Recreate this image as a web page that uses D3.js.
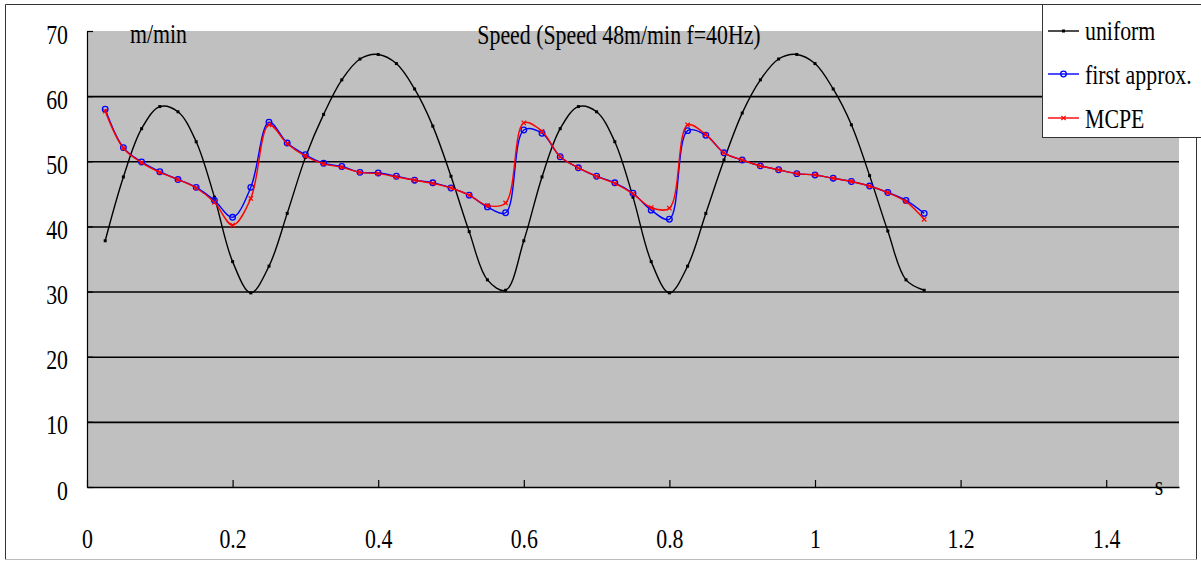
<!DOCTYPE html>
<html>
<head>
<meta charset="utf-8">
<script src="https://cdn.jsdelivr.net/npm/d3@7"></script>
<style>
  body { margin: 0; background: #fff; }
  svg { display: block; }
  text { font-family: "Liberation Serif", "Times New Roman", serif; fill: #000; }
</style>
</head>
<body>
<svg id="chart" width="1201" height="562"></svg>
<script>
// Sample times (s)
const times = [0.025, 0.05, 0.075, 0.1, 0.125, 0.15, 0.175, 0.2, 0.225, 0.25,
  0.275, 0.3, 0.325, 0.35, 0.375, 0.4, 0.425, 0.45, 0.475, 0.5,
  0.525, 0.55, 0.575, 0.6, 0.625, 0.65, 0.675, 0.7, 0.725, 0.75,
  0.775, 0.8, 0.825, 0.85, 0.875, 0.9, 0.925, 0.95, 0.975, 1.0,
  1.025, 1.05, 1.075, 1.1, 1.125, 1.15];

// Speed (m/min) per series
const uniform = [37.8, 47.6, 55.0, 58.4, 57.6, 53.0, 44.5, 34.6, 29.8, 33.9,
  42.0, 50.6, 57.2, 62.5, 65.7, 66.4, 65.0, 61.1, 55.4, 47.7,
  39.2, 31.8, 30.2, 37.8, 47.6, 55.0, 58.4, 57.6, 53.0, 44.5,
  34.6, 29.8, 33.9, 42.0, 50.2, 57.4, 62.5, 65.7, 66.4, 65.0,
  61.1, 55.6, 47.8, 39.3, 31.8, 30.2];

const firstApprox = [58.0, 52.1, 49.9, 48.4, 47.2, 46.0, 44.0, 41.4, 46.0, 56.0,
  52.8, 51.0, 49.7, 49.2, 48.3, 48.2, 47.7, 47.1, 46.7, 45.9,
  44.8, 43.0, 42.1, 54.8, 54.3, 50.7, 49.0, 47.7, 46.7, 45.1,
  42.5, 41.1, 54.7, 54.0, 51.3, 50.2, 49.3, 48.7, 48.1, 47.9,
  47.4, 46.9, 46.2, 45.2, 44.0, 42.0];

const mcpe = [57.7, 52.0, 49.8, 48.3, 47.2, 45.9, 43.7, 40.2, 44.3, 55.6,
  52.7, 50.8, 49.6, 49.1, 48.3, 48.1, 47.6, 47.1, 46.6, 45.9,
  44.8, 43.2, 43.6, 55.9, 54.6, 50.7, 49.0, 47.7, 46.6, 45.0,
  42.9, 42.8, 55.6, 54.1, 51.3, 50.2, 49.3, 48.7, 48.1, 47.9,
  47.4, 46.9, 46.2, 45.2, 43.8, 41.1];

const xTicks = [0, 0.2, 0.4, 0.6, 0.8, 1, 1.2, 1.4];
const yTicks = [0, 10, 20, 30, 40, 50, 60, 70];
const gridValues = [10, 20, 30, 40, 50, 60];
const seriesNames = ["uniform", "first approx.", "MCPE"];
const titleText = "Speed (Speed 48m/min f=40Hz)";
const yUnit = "m/min";
const xUnit = "s";

const plot = { left: 87, top: 31, right: 1179, bottom: 487 };
const FS = 28;      // font size
const SX = 0.78;    // horizontal squeeze for the narrow serif face

const x = d3.scaleLinear().domain([0, 1.5]).range([plot.left, plot.right]);
const y = d3.scaleLinear().domain([0, 70]).range([plot.bottom, plot.top]);

const svg = d3.select("#chart");

// outer frame
svg.append("path")
  .attr("d", "M5.5,559.5 V4.5 H1196.5 V559.5")
  .attr("fill", "none").attr("stroke", "#333");
svg.append("line")
  .attr("x1", 5.5).attr("x2", 1196.5).attr("y1", 559.5).attr("y2", 559.5)
  .attr("stroke", "#bbb");

// plot background
svg.append("rect")
  .attr("x", plot.left).attr("y", plot.top)
  .attr("width", plot.right - plot.left).attr("height", plot.bottom - plot.top)
  .attr("fill", "#c0c0c0");

// horizontal gridlines
svg.append("g")
  .attr("transform", `translate(${plot.left},0)`)
  .call(d3.axisLeft(y).tickValues(gridValues)
    .tickSize(-(plot.right - plot.left)).tickFormat(""))
  .call(g => g.select(".domain").remove())
  .call(g => g.selectAll("line").attr("stroke", "#000").attr("stroke-width", 1.6));

// y axis
svg.append("g")
  .attr("transform", `translate(${plot.left},0)`)
  .attr("font-family", null).attr("font-size", null)
  .call(d3.axisLeft(y).tickValues(yTicks).tickSizeInner(-6).tickSizeOuter(0)
    .tickFormat(d3.format("d")))
  .call(g => g.select(".domain").attr("stroke", "#000").attr("stroke-width", 1.2))
  .call(g => g.selectAll(".tick line").attr("stroke", "#000").attr("stroke-width", 1.2))
  .call(g => g.selectAll(".tick text")
    .attr("x", -19 / SX).attr("y", 12).attr("dy", 0)
    .attr("text-anchor", "end")
    .attr("font-size", FS)
    .attr("transform", `scale(${SX},1)`));

// x axis
svg.append("g")
  .attr("transform", `translate(0,${plot.bottom})`)
  .attr("font-family", null).attr("font-size", null)
  .call(d3.axisBottom(x).tickValues(xTicks).tickSizeInner(-7).tickSizeOuter(0)
    .tickFormat(d3.format("~g")))
  .call(g => g.select(".domain").attr("stroke", "#000").attr("stroke-width", 1.6))
  .call(g => g.selectAll(".tick line").attr("stroke", "#000").attr("stroke-width", 1.2))
  .call(g => g.selectAll(".tick text")
    .attr("y", 61).attr("dy", 0)
    .attr("font-size", FS)
    .attr("transform", `scale(${SX},1)`));

// curves
const line = d3.line()
  .x((d, i) => x(times[i]))
  .y(d => y(d))
  .curve(d3.curveCatmullRom.alpha(0.5));

const series = [
  { name: seriesNames[0], values: uniform, color: "#000000", marker: "dot" },
  { name: seriesNames[1], values: firstApprox, color: "#0000ff", marker: "circle" },
  { name: seriesNames[2], values: mcpe, color: "#ff0000", marker: "cross" }
];

function drawMarker(g, mx, my, kind, color) {
  if (kind === "dot") {
    g.append("rect").attr("x", mx - 1.5).attr("y", my - 1.5)
      .attr("width", 3).attr("height", 3).attr("fill", color);
  } else if (kind === "circle") {
    g.append("circle").attr("cx", mx).attr("cy", my).attr("r", 2.8)
      .attr("fill", "none").attr("stroke", color).attr("stroke-width", 1.3);
  } else {
    g.append("path")
      .attr("d", `M${mx - 2.2},${my - 2.2}L${mx + 2.2},${my + 2.2}M${mx - 2.2},${my + 2.2}L${mx + 2.2},${my - 2.2}`)
      .attr("stroke", color).attr("stroke-width", 1.2);
  }
}

series.forEach(s => {
  const g = svg.append("g");
  g.append("path")
    .attr("d", line(s.values))
    .attr("fill", "none")
    .attr("stroke", s.color)
    .attr("stroke-width", 1.4);
  s.values.forEach((v, i) => drawMarker(g, x(times[i]), y(v), s.marker, s.color));
});

// texts
function label(txt, tx, ty, anchor) {
  svg.append("text")
    .attr("transform", `translate(${tx},${ty}) scale(${SX},1)`)
    .attr("text-anchor", anchor || "start")
    .attr("font-size", FS)
    .text(txt);
}
label(yUnit, 130, 43);
label(titleText, 619, 44, "middle");
label(xUnit, 1159, 495, "middle");

// legend
const legend = svg.append("g");
legend.append("rect")
  .attr("x", 1042.5).attr("y", 4.5).attr("width", 170).attr("height", 133)
  .attr("fill", "#fff").attr("stroke", "#333");
const legendRows = [31, 74, 118];
const legendBase = [40, 84, 128];
series.forEach((s, i) => {
  legend.append("line")
    .attr("x1", 1048).attr("x2", 1079)
    .attr("y1", legendRows[i]).attr("y2", legendRows[i])
    .attr("stroke", s.color).attr("stroke-width", 1.4);
  drawMarker(legend, 1063.5, legendRows[i], s.marker, s.color);
  legend.append("text")
    .attr("transform", `translate(1085,${legendBase[i]}) scale(${SX},1)`)
    .attr("font-size", FS)
    .text(s.name);
});
</script>
</body>
</html>
